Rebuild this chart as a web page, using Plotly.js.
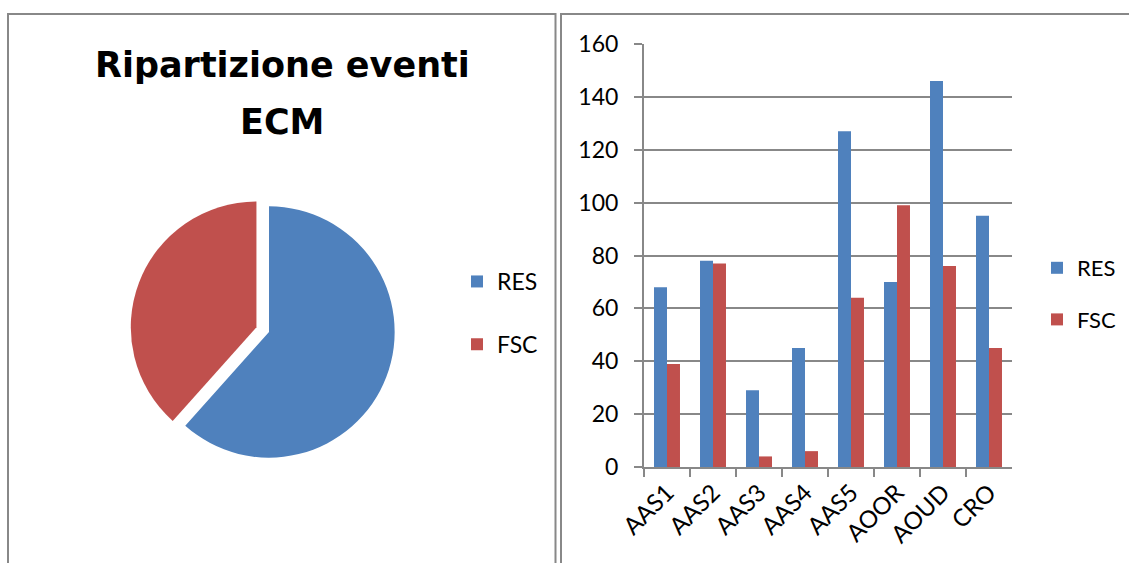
<!DOCTYPE html>
<html>
<head>
<meta charset="utf-8">
<script src="https://cdn.plot.ly/plotly-3.0.1.min.js"></script>
<style>html,body{margin:0;padding:0;background:#fff;}#chart{width:1129px;height:563px;}</style>
</head>
<body>
<div id="chart"></div>
<script>
// ---- data ----
const categories = ['AAS1', 'AAS2', 'AAS3', 'AAS4', 'AAS5', 'AOOR', 'AOUD', 'CRO'];
const seriesNames = ['RES', 'FSC'];
const resValues = [68, 78, 29, 45, 127, 70, 146, 95];
const fscValues = [39, 77, 4, 6, 64, 99, 76, 45];
const pieTitleLines = ['Ripartizione eventi', 'ECM'];
const yTicks = [0, 20, 40, 60, 80, 100, 120, 140, 160];

// ---- styling ----
const W = 1129, H = 563;
const blue = '#4F81BD', red = '#C0504D', gray = '#888888';
const font = 'Lato, "Open Sans", sans-serif';
const titleFont = '"DejaVu Sans", sans-serif';
const px = v => v / W;
const py = v => 1 - v / H;

const sum = a => a.reduce((s, v) => s + v, 0);

const pie = {
  type: 'pie',
  labels: seriesNames.map(s => s + '<br> '),
  values: [sum(resValues), sum(fscValues)],
  marker: {colors: [blue, red], line: {width: 0}},
  pull: [0, 0.107],
  sort: false,
  direction: 'clockwise',
  rotation: 0,
  textinfo: 'none',
  hoverinfo: 'label+value+percent',
  domain: {x: [px(128.9), px(409.1)], y: [py(471.1), py(192.9)]},
  legend: 'legend'
};

const barRes = {
  type: 'bar', name: seriesNames[0], x: categories, y: resValues,
  marker: {color: blue, line: {width: 0}},
  legend: 'legend2', legendgroup: 'a'
};
const barFsc = {
  type: 'bar', name: seriesNames[1], x: categories, y: fscValues,
  marker: {color: red, line: {width: 0}},
  legend: 'legend2', legendgroup: 'b'
};

const layout = {
  width: W, height: H,
  margin: {l: 0, r: 0, t: 0, b: 0},
  paper_bgcolor: '#fff', plot_bgcolor: 'rgba(0,0,0,0)',
  font: {family: font, size: 22, color: '#000'},
  barmode: 'group', bargap: 0.435, bargroupgap: 0,
  xaxis: {
    domain: [px(644), px(1012)],
    type: 'category',
    showline: true, linecolor: gray, linewidth: 2,
    ticks: 'outside', tickson: 'boundaries', ticklen: 8, tickcolor: gray, tickwidth: 2,
    tickangle: -45, showgrid: false, zeroline: false,
    tickfont: {family: font, size: 24, color: '#000'}
  },
  yaxis: {
    domain: [py(467), py(44)],
    range: [0, 160], tickvals: yTicks,
    showline: true, linecolor: gray, linewidth: 2,
    ticks: 'outside', ticklen: 8, tickcolor: gray, tickwidth: 2,
    showgrid: true, gridcolor: gray, gridwidth: 2, zeroline: false,
    ticklabelstandoff: 11,
    tickfont: {family: font, size: 23, color: '#000'}
  },
  legend: {
    x: px(457), y: py(260), xanchor: 'left', yanchor: 'top',
    bgcolor: 'rgba(0,0,0,0)', borderwidth: 0, valign: 'top',
    font: {family: font, size: 23, color: '#000'}, itemwidth: 30
  },
  legend2: {
    x: px(1037), y: py(247), xanchor: 'left', yanchor: 'top',
    bgcolor: 'rgba(0,0,0,0)', borderwidth: 0,
    traceorder: 'grouped', tracegroupgap: 20,
    font: {family: font, size: 22, color: '#000'}, itemwidth: 30
  },
  annotations: pieTitleLines.map((t, i) => ({
    text: '<b>' + t + '</b>', xref: 'paper', yref: 'paper',
    x: px(282), y: py(65 + i * 57), xanchor: 'center', yanchor: 'middle',
    showarrow: false, font: {family: titleFont, size: 35, color: '#000'}
  })),
  shapes: [
    {type: 'rect', xref: 'paper', yref: 'paper', x0: px(8), x1: px(555.5), y0: py(575), y1: py(14),
     line: {color: gray, width: 2}, fillcolor: 'rgba(0,0,0,0)', layer: 'below'},
    {type: 'rect', xref: 'paper', yref: 'paper', x0: px(561), x1: px(1140), y0: py(575), y1: py(14),
     line: {color: gray, width: 2}, fillcolor: 'rgba(0,0,0,0)', layer: 'below'}
  ],
  showlegend: true
};

Plotly.newPlot('chart', [pie, barRes, barFsc], layout, {staticPlot: true, displayModeBar: false});
</script>
</body>
</html>
